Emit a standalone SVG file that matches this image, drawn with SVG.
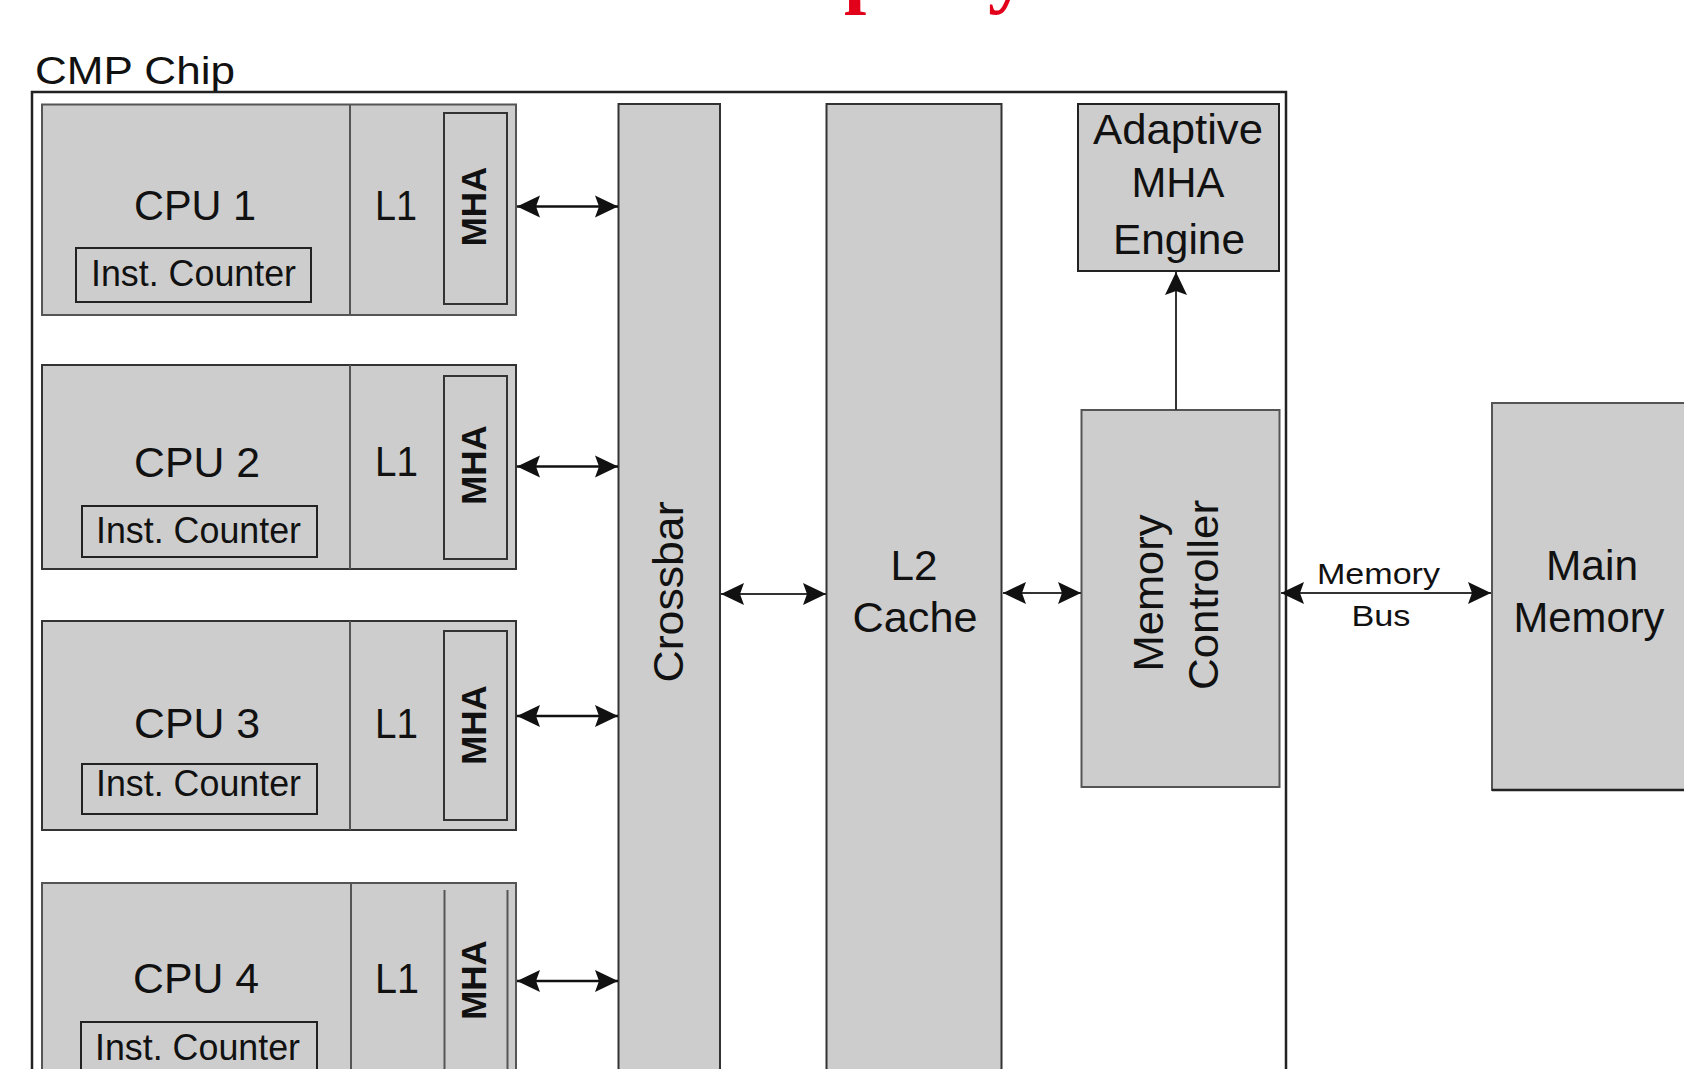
<svg xmlns="http://www.w3.org/2000/svg" width="1684" height="1069" viewBox="0 0 1684 1069">
<style>
  .blk{fill:#cdcdcd;stroke:#555;stroke-width:2}
  .dk{fill:#cdcdcd;stroke:#222;stroke-width:2}
  .div{stroke:#555;stroke-width:2}
  .t{font-family:"Liberation Sans",Arial,sans-serif;fill:#111}
  .big{font-size:42px}
  .ic{font-size:36px}
  .mha{font-size:35px;font-weight:bold}
  .bus{font-size:30px}
  .cn{fill:none;stroke:#333;stroke-width:2}
  .cpu{stroke:#111;stroke-width:2.5}
  .red{font-family:"Liberation Serif","Times New Roman",serif;font-weight:bold;font-size:80px;fill:#e3001b}
</style>
<defs>
  <marker id="ah" markerUnits="userSpaceOnUse" markerWidth="30" markerHeight="30" viewBox="-26 -15 30 30" refX="0" refY="0" orient="auto-start-reverse">
    <path d="M0,0 L-23,-11 L-19,0 L-23,11 Z" fill="#111"/>
  </marker>
</defs>
<rect width="1684" height="1069" fill="#fff"/>

<g id="title-fragment">
  <text class="red" x="844" y="-2">p</text>
  <text class="red" x="988" y="-2">y</text>
</g>

<g id="chip">
  <text class="t" x="35" y="84" font-size="38" textLength="200" lengthAdjust="spacingAndGlyphs">CMP Chip</text>
  <path d="M32,1075 V92 H1286 V1075" fill="none" stroke="#222" stroke-width="2.5"/>
</g>

<g id="cpu1">
  <rect class="blk" x="42" y="104.5" width="474" height="210.5"/>
  <line class="div" x1="350" y1="104.5" x2="350" y2="315"/>
  <rect class="blk" x="444" y="113" width="63" height="191" style="stroke:#333"/>
  <rect class="dk" x="76" y="248" width="235" height="54"/>
  <text class="t big" x="134" y="220" textLength="122" lengthAdjust="spacingAndGlyphs">CPU 1</text>
  <text class="t big" x="375" y="220" textLength="42" lengthAdjust="spacingAndGlyphs">L1</text>
  <text class="t ic" x="91" y="286" textLength="205" lengthAdjust="spacingAndGlyphs">Inst. Counter</text>
  <text class="t mha" transform="translate(486,206.5) rotate(-90)" text-anchor="middle">MHA</text>
</g>

<g id="cpu2">
  <rect class="blk" x="42" y="365" width="474" height="204" style="stroke:#333"/>
  <line class="div" x1="350" y1="365" x2="350" y2="569"/>
  <rect class="blk" x="444" y="376" width="63" height="183" style="stroke:#333"/>
  <rect class="dk" x="82" y="506" width="235" height="51"/>
  <text class="t big" x="134" y="477" textLength="126" lengthAdjust="spacingAndGlyphs">CPU 2</text>
  <text class="t big" x="375" y="476" textLength="43" lengthAdjust="spacingAndGlyphs">L1</text>
  <text class="t ic" x="96" y="543" textLength="205" lengthAdjust="spacingAndGlyphs">Inst. Counter</text>
  <text class="t mha" transform="translate(486,465) rotate(-90)" text-anchor="middle">MHA</text>
</g>

<g id="cpu3">
  <rect class="blk" x="42" y="621" width="474" height="209" style="stroke:#333"/>
  <line class="div" x1="350" y1="621" x2="350" y2="830"/>
  <rect class="blk" x="444" y="631" width="63" height="189" style="stroke:#333"/>
  <rect class="dk" x="82" y="764" width="235" height="50"/>
  <text class="t big" x="134" y="738" textLength="126" lengthAdjust="spacingAndGlyphs">CPU 3</text>
  <text class="t big" x="375" y="738" textLength="43" lengthAdjust="spacingAndGlyphs">L1</text>
  <text class="t ic" x="96" y="796" textLength="205" lengthAdjust="spacingAndGlyphs">Inst. Counter</text>
  <text class="t mha" transform="translate(486,725) rotate(-90)" text-anchor="middle">MHA</text>
</g>

<g id="cpu4">
  <rect class="blk" x="42" y="883" width="474" height="200"/>
  <line class="div" x1="351" y1="883" x2="351" y2="1075"/>
  <line class="div" x1="444.5" y1="890" x2="444.5" y2="1075"/>
  <line class="div" x1="507.5" y1="890" x2="507.5" y2="1075"/>
  <rect class="dk" x="81" y="1022" width="236" height="60"/>
  <text class="t big" x="133" y="993" textLength="126" lengthAdjust="spacingAndGlyphs">CPU 4</text>
  <text class="t big" x="375" y="993" textLength="44" lengthAdjust="spacingAndGlyphs">L1</text>
  <text class="t ic" x="95" y="1060" textLength="205" lengthAdjust="spacingAndGlyphs">Inst. Counter</text>
  <text class="t mha" transform="translate(486,980) rotate(-90)" text-anchor="middle">MHA</text>
</g>

<g id="crossbar">
  <rect class="blk" x="618.5" y="104" width="101.5" height="980" style="stroke:#333"/>
  <text class="t big" transform="translate(683,592) rotate(-90)" text-anchor="middle" textLength="181" lengthAdjust="spacingAndGlyphs">Crossbar</text>
</g>

<g id="l2cache">
  <rect class="blk" x="826.5" y="104" width="175" height="980" style="stroke:#333"/>
  <text class="t big" x="914" y="580" text-anchor="middle" textLength="47" lengthAdjust="spacingAndGlyphs">L2</text>
  <text class="t big" x="915" y="632" text-anchor="middle" textLength="125" lengthAdjust="spacingAndGlyphs">Cache</text>
</g>

<g id="adaptive-mha-engine">
  <rect class="dk" x="1078" y="104" width="201" height="167"/>
  <text class="t big" x="1178" y="144" text-anchor="middle" textLength="170" lengthAdjust="spacingAndGlyphs">Adaptive</text>
  <text class="t big" x="1178" y="197" text-anchor="middle" textLength="93" lengthAdjust="spacingAndGlyphs">MHA</text>
  <text class="t big" x="1179" y="254" text-anchor="middle" textLength="132" lengthAdjust="spacingAndGlyphs">Engine</text>
</g>

<g id="memory-controller">
  <rect class="blk" x="1081.5" y="410" width="198" height="377"/>
  <text class="t big" transform="translate(1163,593) rotate(-90)" text-anchor="middle" textLength="157" lengthAdjust="spacingAndGlyphs">Memory</text>
  <text class="t big" transform="translate(1218,595) rotate(-90)" text-anchor="middle" textLength="190" lengthAdjust="spacingAndGlyphs">Controller</text>
</g>

<g id="main-memory">
  <rect class="blk" x="1492" y="403" width="200" height="387"/>
  <line x1="1492" y1="790" x2="1684" y2="790" stroke="#222" stroke-width="2.5"/>
  <text class="t big" x="1592" y="580" text-anchor="middle" textLength="92" lengthAdjust="spacingAndGlyphs">Main</text>
  <text class="t big" x="1589" y="632" text-anchor="middle" textLength="151" lengthAdjust="spacingAndGlyphs">Memory</text>
</g>

<g id="connectors">
  <path class="cn cpu" d="M517,206.5 H618" marker-start="url(#ah)" marker-end="url(#ah)"/>
  <path class="cn cpu" d="M517,466.5 H618" marker-start="url(#ah)" marker-end="url(#ah)"/>
  <path class="cn cpu" d="M517,716 H618" marker-start="url(#ah)" marker-end="url(#ah)"/>
  <path class="cn cpu" d="M517,981 H618" marker-start="url(#ah)" marker-end="url(#ah)"/>
  <path class="cn" d="M721,594 H826" marker-start="url(#ah)" marker-end="url(#ah)"/>
  <path class="cn" d="M1003,593 H1081" marker-start="url(#ah)" marker-end="url(#ah)"/>
  <path class="cn" d="M1281,593 H1491" marker-start="url(#ah)" marker-end="url(#ah)"/>
  <path class="cn" d="M1176,410 V272" marker-end="url(#ah)"/>
  <text class="t bus" x="1378.5" y="584" text-anchor="middle" textLength="123" lengthAdjust="spacingAndGlyphs">Memory</text>
  <text class="t bus" x="1381" y="626" text-anchor="middle" textLength="59" lengthAdjust="spacingAndGlyphs">Bus</text>
</g>
</svg>
